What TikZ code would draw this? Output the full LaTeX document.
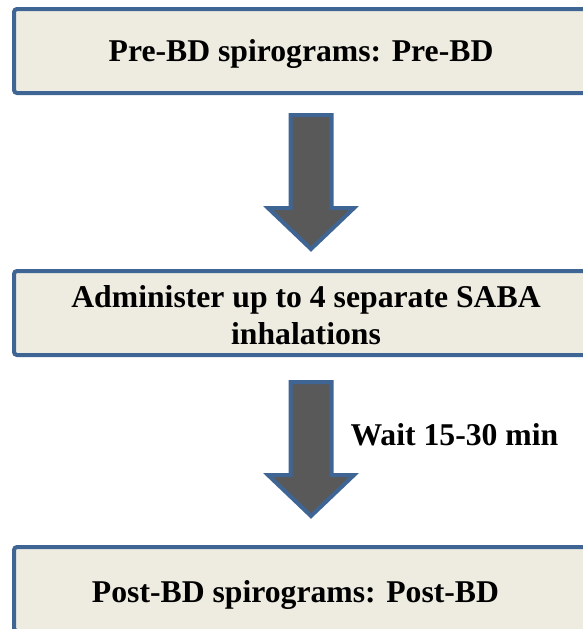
\documentclass[tikz,border=0pt]{standalone}
\usepackage{fontspec}
\setmainfont{Liberation Serif}
\usetikzlibrary{calc}
\usetikzlibrary{positioning}

\definecolor{boxblue}{HTML}{3F6594}
\definecolor{boxfill}{HTML}{EEECE1}
\definecolor{arrowgrey}{HTML}{595959}

% block arrow from shaft top #1 to tip #2
\newcommand{\blockarrow}[2]{%
  \draw[bigarrow] ($(#1)+(-20.5,0)$) -- ($(#1)+(20.5,0)$)
    -- ($(#2)+(20.5,-41)$) -- ($(#2)+(43,-41)$) -- (#2)
    -- ($(#2)+(-43,-41)$) -- ($(#2)+(-20.5,-41)$) -- cycle;}

\begin{document}
\begin{tikzpicture}[x=1pt,y=-1pt,
      stepbox/.style={draw=boxblue, line width=4pt, fill=boxfill,
        rounded corners=3pt, minimum width=590pt, minimum height=84pt},
      steptext/.style={anchor=base, align=center,
        font=\fontsize{31.7}{37}\selectfont\bfseries},
      bigarrow/.style={draw=boxblue, line width=4pt, fill=arrowgrey,
        line join=miter},
      ]
    \useasboundingbox (0,0) rectangle (582,629);

    \node[stepbox] (prebox) at (309,51) {};
    \node[stepbox] (sababox) at (309,313) {};
    \node[stepbox] (postbox) at (309,589) {};

    \node[steptext] (pretext) at (301,61) {Pre-BD spirograms: Pre-BD};
    \node[steptext] (sabatext) at (306,344) {Administer up to 4 separate SABA\\inhalations};
    \node[steptext] (posttext) at (295.5,602) {Post-BD spirograms: Post-BD};

    \coordinate (a1s) at (311,115);
    \coordinate (a1e) at (311,249);
    \coordinate (a2s) at (311,382);
    \coordinate (a2e) at (311,516);
    \blockarrow{a1s}{a1e}
    \blockarrow{a2s}{a2e}

    \node[steptext, anchor=base west] (wait) at (347,445) {Wait 15-30 min};
\end{tikzpicture}
\end{document}
